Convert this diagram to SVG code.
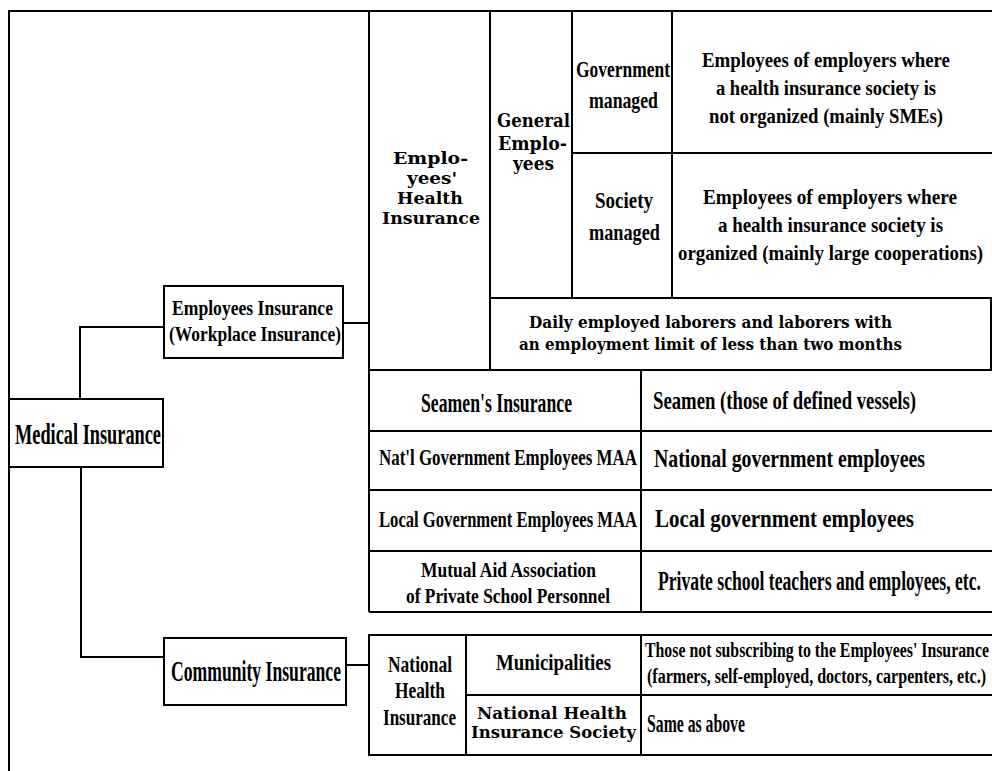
<svg xmlns="http://www.w3.org/2000/svg" width="992" height="771" viewBox="0 0 992 771">
<style>
.ln{stroke:#000;stroke-width:2;fill:none}
.bx{stroke:#000;stroke-width:2;fill:#fff}
.n{font-family:"Liberation Serif","Times New Roman",serif;font-weight:bold;fill:#000}
.w{font-family:"DejaVu Serif","Liberation Serif",serif;font-weight:bold;fill:#000}
</style>
<rect x="0" y="0" width="992" height="771" fill="#fff"/>
<g id="frame">
<path class="ln" d="M9,771 V11 H992"/>
</g>
<g id="connectors">
<path class="ln" d="M164,327 H80 V399"/>
<path class="ln" d="M81,467 V657 H164"/>
<path class="ln" d="M343,323 H369"/>
<path class="ln" d="M346,665 H369"/>
</g>
<g id="medical-insurance">
<rect class="bx" x="9" y="399" width="154" height="68"/>
<text class="n" x="15" y="444" font-size="18.31" transform="matrix(1 0 0 1.584 0 -259.3)" textLength="146" lengthAdjust="spacingAndGlyphs">Medical Insurance</text>
</g>
<g id="employees-insurance">
<rect class="bx" x="164" y="286" width="179" height="72"/>
<text class="n" x="172" y="315" font-size="17.6" transform="matrix(1 0 0 1.25 0 -78.75)" textLength="161" lengthAdjust="spacingAndGlyphs">Employees Insurance</text>
<text class="n" x="169" y="341" font-size="17.35" transform="matrix(1 0 0 1.268 0 -91.39)" textLength="172" lengthAdjust="spacingAndGlyphs">(Workplace Insurance)</text>
</g>
<g id="community-insurance">
<rect class="bx" x="164" y="638" width="182" height="67"/>
<text class="n" x="171" y="681" font-size="17.64" transform="matrix(1 0 0 1.644 0 -438.56)" textLength="170" lengthAdjust="spacingAndGlyphs">Community Insurance</text>
</g>
<g id="employees-health-insurance">
<path class="ln" d="M369,11 V612 M490,11 V370 M369,370 H992 M572,11 V298 M672,11 V298 M572,153 H992 M490,298 H991 V370"/>
<text class="w" x="393" y="164" font-size="16" textLength="75" lengthAdjust="spacingAndGlyphs">Emplo-</text>
<text class="w" x="407" y="184" font-size="16" textLength="50" lengthAdjust="spacingAndGlyphs">yees'</text>
<text class="w" x="397" y="204" font-size="16" textLength="66" lengthAdjust="spacingAndGlyphs">Health</text>
<text class="w" x="382" y="224" font-size="16" textLength="98" lengthAdjust="spacingAndGlyphs">Insurance</text>
</g>
<g id="general-employees">
<text class="w" x="497" y="127" font-size="18" textLength="73" lengthAdjust="spacingAndGlyphs">General</text>
<text class="w" x="498" y="150" font-size="18" textLength="69" lengthAdjust="spacingAndGlyphs">Emplo-</text>
<text class="w" x="513" y="170" font-size="18" textLength="41" lengthAdjust="spacingAndGlyphs">yees</text>
</g>
<g id="government-managed">
<text class="n" x="576" y="77" font-size="17.45" transform="matrix(1 0 0 1.375 0 -28.875)" textLength="94" lengthAdjust="spacingAndGlyphs">Government</text>
<text class="n" x="589" y="108" font-size="17.74" transform="matrix(1 0 0 1.353 0 -38.12)" textLength="69" lengthAdjust="spacingAndGlyphs">managed</text>
<text class="n" x="702" y="67" font-size="18.8" transform="matrix(1 0 0 1.117 0 -7.84)" textLength="248" lengthAdjust="spacingAndGlyphs">Employees of employers where</text>
<text class="n" x="716" y="95" font-size="18.5" transform="matrix(1 0 0 1.135 0 -12.83)" textLength="220" lengthAdjust="spacingAndGlyphs">a health insurance society is</text>
<text class="n" x="709" y="123" font-size="18.68" transform="matrix(1 0 0 1.124 0 -15.25)" textLength="234" lengthAdjust="spacingAndGlyphs">not organized (mainly SMEs)</text>
</g>
<g id="society-managed">
<text class="n" x="595" y="208" font-size="18.99" transform="matrix(1 0 0 1.264 0 -54.91)" textLength="58" lengthAdjust="spacingAndGlyphs">Society</text>
<text class="n" x="589" y="240" font-size="18.26" transform="matrix(1 0 0 1.314 0 -75.36)" textLength="71" lengthAdjust="spacingAndGlyphs">managed</text>
<text class="n" x="703" y="204" font-size="19.25" transform="matrix(1 0 0 1.09 0 -18.36)" textLength="254" lengthAdjust="spacingAndGlyphs">Employees of employers where</text>
<text class="n" x="718" y="232" font-size="18.93" transform="matrix(1 0 0 1.11 0 -25.52)" textLength="225" lengthAdjust="spacingAndGlyphs">a health insurance society is</text>
<text class="n" x="678" y="260" font-size="18.84" transform="matrix(1 0 0 1.115 0 -29.9)" textLength="305" lengthAdjust="spacingAndGlyphs">organized (mainly large cooperations)</text>
</g>
<g id="daily-employed">
<text class="w" x="529" y="328" font-size="17" textLength="363" lengthAdjust="spacingAndGlyphs">Daily employed laborers and laborers with</text>
<text class="w" x="519" y="350" font-size="17" textLength="383" lengthAdjust="spacingAndGlyphs">an employment limit of less than two months</text>
</g>
<g id="other-employee-schemes">
<path class="ln" d="M641,370 V612 M369,431 H992 M369,490 H992 M369,551 H992 M369,612 H992"/>
<text class="n" x="421" y="412" font-size="17.7" transform="matrix(1 0 0 1.58 0 -238.96)" textLength="151" lengthAdjust="spacingAndGlyphs">Seamen's Insurance</text>
<text class="n" x="653" y="409" font-size="18.71" transform="matrix(1 0 0 1.39 0 -159.51)" textLength="263" lengthAdjust="spacingAndGlyphs">Seamen (those of defined vessels)</text>
<text class="n" x="379" y="465" font-size="16.92" transform="matrix(1 0 0 1.36 0 -167.4)" textLength="258" lengthAdjust="spacingAndGlyphs">Nat'l Government Employees MAA</text>
<text class="n" x="654" y="467" font-size="19.83" transform="matrix(1 0 0 1.26 0 -121.42)" textLength="271" lengthAdjust="spacingAndGlyphs">National government employees</text>
<text class="n" x="379" y="527" font-size="16.62" transform="matrix(1 0 0 1.384 0 -202.37)" textLength="258" lengthAdjust="spacingAndGlyphs">Local Government Employees MAA</text>
<text class="n" x="655" y="527" font-size="20.9" transform="matrix(1 0 0 1.196 0 -103.29)" textLength="259" lengthAdjust="spacingAndGlyphs">Local government employees</text>
<text class="n" x="421" y="577" font-size="17.3" transform="matrix(1 0 0 1.156 0 -90.01)" textLength="175" lengthAdjust="spacingAndGlyphs">Mutual Aid Association</text>
<text class="n" x="406" y="603" font-size="17.36" transform="matrix(1 0 0 1.152 0 -91.66)" textLength="204" lengthAdjust="spacingAndGlyphs">of Private School Personnel</text>
<text class="n" x="658" y="590" font-size="17.65" transform="matrix(1 0 0 1.53 0 -312.7)" textLength="323" lengthAdjust="spacingAndGlyphs">Private school teachers and employees, etc.</text>
</g>
<g id="national-health-insurance">
<path class="ln" d="M992,635 H369 V755 H992 M466,635 V755 M641,635 V755 M466,695 H992"/>
<text class="n" x="388" y="672" font-size="17.45" transform="matrix(1 0 0 1.375 0 -252)" textLength="64" lengthAdjust="spacingAndGlyphs">National</text>
<text class="n" x="395" y="698" font-size="17.3" transform="matrix(1 0 0 1.387 0 -270.13)" textLength="50" lengthAdjust="spacingAndGlyphs">Health</text>
<text class="n" x="383" y="725" font-size="17.06" transform="matrix(1 0 0 1.407 0 -295.08)" textLength="73" lengthAdjust="spacingAndGlyphs">Insurance</text>
<text class="n" x="496" y="670" font-size="18.8" transform="matrix(1 0 0 1.276 0 -184.92)" textLength="115" lengthAdjust="spacingAndGlyphs">Municipalities</text>
<text class="n" x="645" y="657" font-size="15.84" transform="matrix(1 0 0 1.263 0 -172.79)" textLength="344" lengthAdjust="spacingAndGlyphs">Those not subscribing to the Employees' Insurance</text>
<text class="n" x="647" y="683" font-size="16.04" transform="matrix(1 0 0 1.247 0 -168.7)" textLength="339" lengthAdjust="spacingAndGlyphs">(farmers, self-employed, doctors, carpenters, etc.)</text>
<text class="w" x="477" y="719" font-size="16" textLength="150" lengthAdjust="spacingAndGlyphs">National Health</text>
<text class="w" x="471" y="738" font-size="16" textLength="165" lengthAdjust="spacingAndGlyphs">Insurance Society</text>
<text class="n" x="647" y="732" font-size="15.75" transform="matrix(1 0 0 1.587 0 -429.68)" textLength="98" lengthAdjust="spacingAndGlyphs">Same as above</text>
</g>
</svg>
